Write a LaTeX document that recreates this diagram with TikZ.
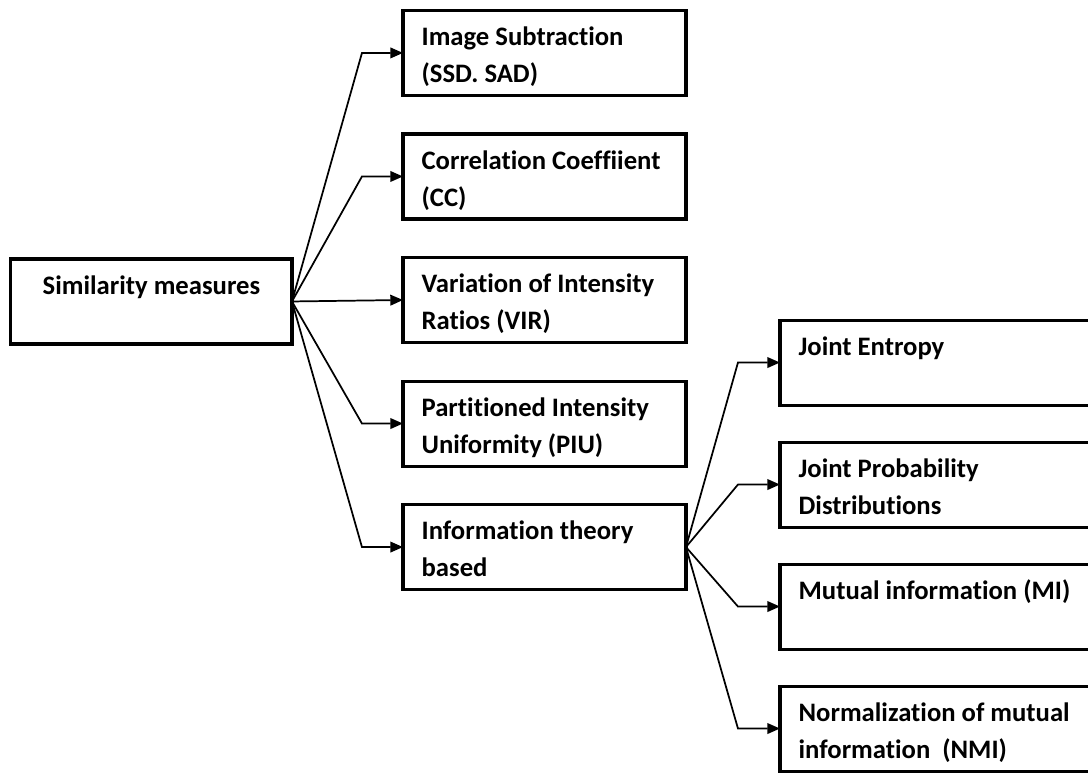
\documentclass[tikz,border=0pt]{standalone}
\usepackage{fontspec}
\setmainfont{Carlito}[Ligatures=NoCommon]
\usetikzlibrary{arrows.meta,positioning}
\tikzset{%
  % Specifications for style of arrows:
   branch/.style={
           -{Triangle[length=9.5pt,width=8pt]},
           line width=1.3pt,
           line join=miter},
  % Specifications for style of nodes:
   base/.style = {rectangle, draw=black, line width=2.3pt, outer sep=0pt,
                  minimum height=63.75pt, inner xsep=14pt, inner ysep=0pt,
                  text height=15pt, text depth=26pt,
                  font=\bfseries\fontsize{20}{27.75}\selectfont},
   root/.style = {base, minimum width=210.75pt, align=center},
   method/.style = {base, minimum width=212.25pt, text width=184.25pt,
                  align=flush left},
   measure/.style = {base, minimum width=255pt, text width=227pt,
                  align=flush left},
}

\begin{document}
\begin{tikzpicture}

  \useasboundingbox (-113.6pt,-352.9pt) rectangle (702.4pt,226.1pt);
  \clip (-113.6pt,-352.9pt) rectangle (702.4pt,226.1pt);

  % Specification of nodes (position, etc.)
  \node (sim_block)  [root]	{Similarity measures};
  \node (vir_block)  [method, right=83.25pt of sim_block, yshift=1.1pt]	{Variation of Intensity\\Ratios (VIR)};
  \node (cc_block)   [method, above=28.9pt of vir_block]	{Correlation Coeffiient\\(CC)};
  \node (sub_block)  [method, above=28.9pt of cc_block]	{Image Subtraction\\(SSD. SAD)};
  \node (piu_block)  [method, below=28.9pt of vir_block]	{Partitioned Intensity\\Uniformity (PIU)};
  \node (info_block) [method, below=28.9pt of piu_block]	{Information theory\\based};

  \node (je_block)   [measure, right=70.5pt of info_block, yshift=138.4pt]	{Joint Entropy};
  \node (jpd_block)  [measure, below=27.75pt of je_block]	{Joint Probability\\Distributions};
  \node (mi_block)   [measure, below=27.75pt of jpd_block]	{Mutual information (MI)};
  \node (nmi_block)  [measure, below=27.75pt of mi_block]	{Normalization of mutual\\information\ \ (NMI)};

  % Connectors from the root
  \draw[branch] (sim_block.east) -- ([xshift=-30.75pt]sub_block.west) -- (sub_block.west);
  \draw[branch] (sim_block.east) -- ([xshift=-30.75pt]cc_block.west) -- (cc_block.west);
  \draw[branch] (sim_block.east) -- (vir_block.west);
  \draw[branch] (sim_block.east) -- ([xshift=-30.75pt]piu_block.west) -- (piu_block.west);
  \draw[branch] (sim_block.east) -- ([xshift=-30.75pt]info_block.west) -- (info_block.west);

  % Connectors from information theory
  \draw[branch] (info_block.east) -- ([xshift=-31.5pt]je_block.west) -- (je_block.west);
  \draw[branch] (info_block.east) -- ([xshift=-31.5pt]jpd_block.west) -- (jpd_block.west);
  \draw[branch] (info_block.east) -- ([xshift=-31.5pt]mi_block.west) -- (mi_block.west);
  \draw[branch] (info_block.east) -- ([xshift=-31.5pt]nmi_block.west) -- (nmi_block.west);

\end{tikzpicture}
\end{document}
